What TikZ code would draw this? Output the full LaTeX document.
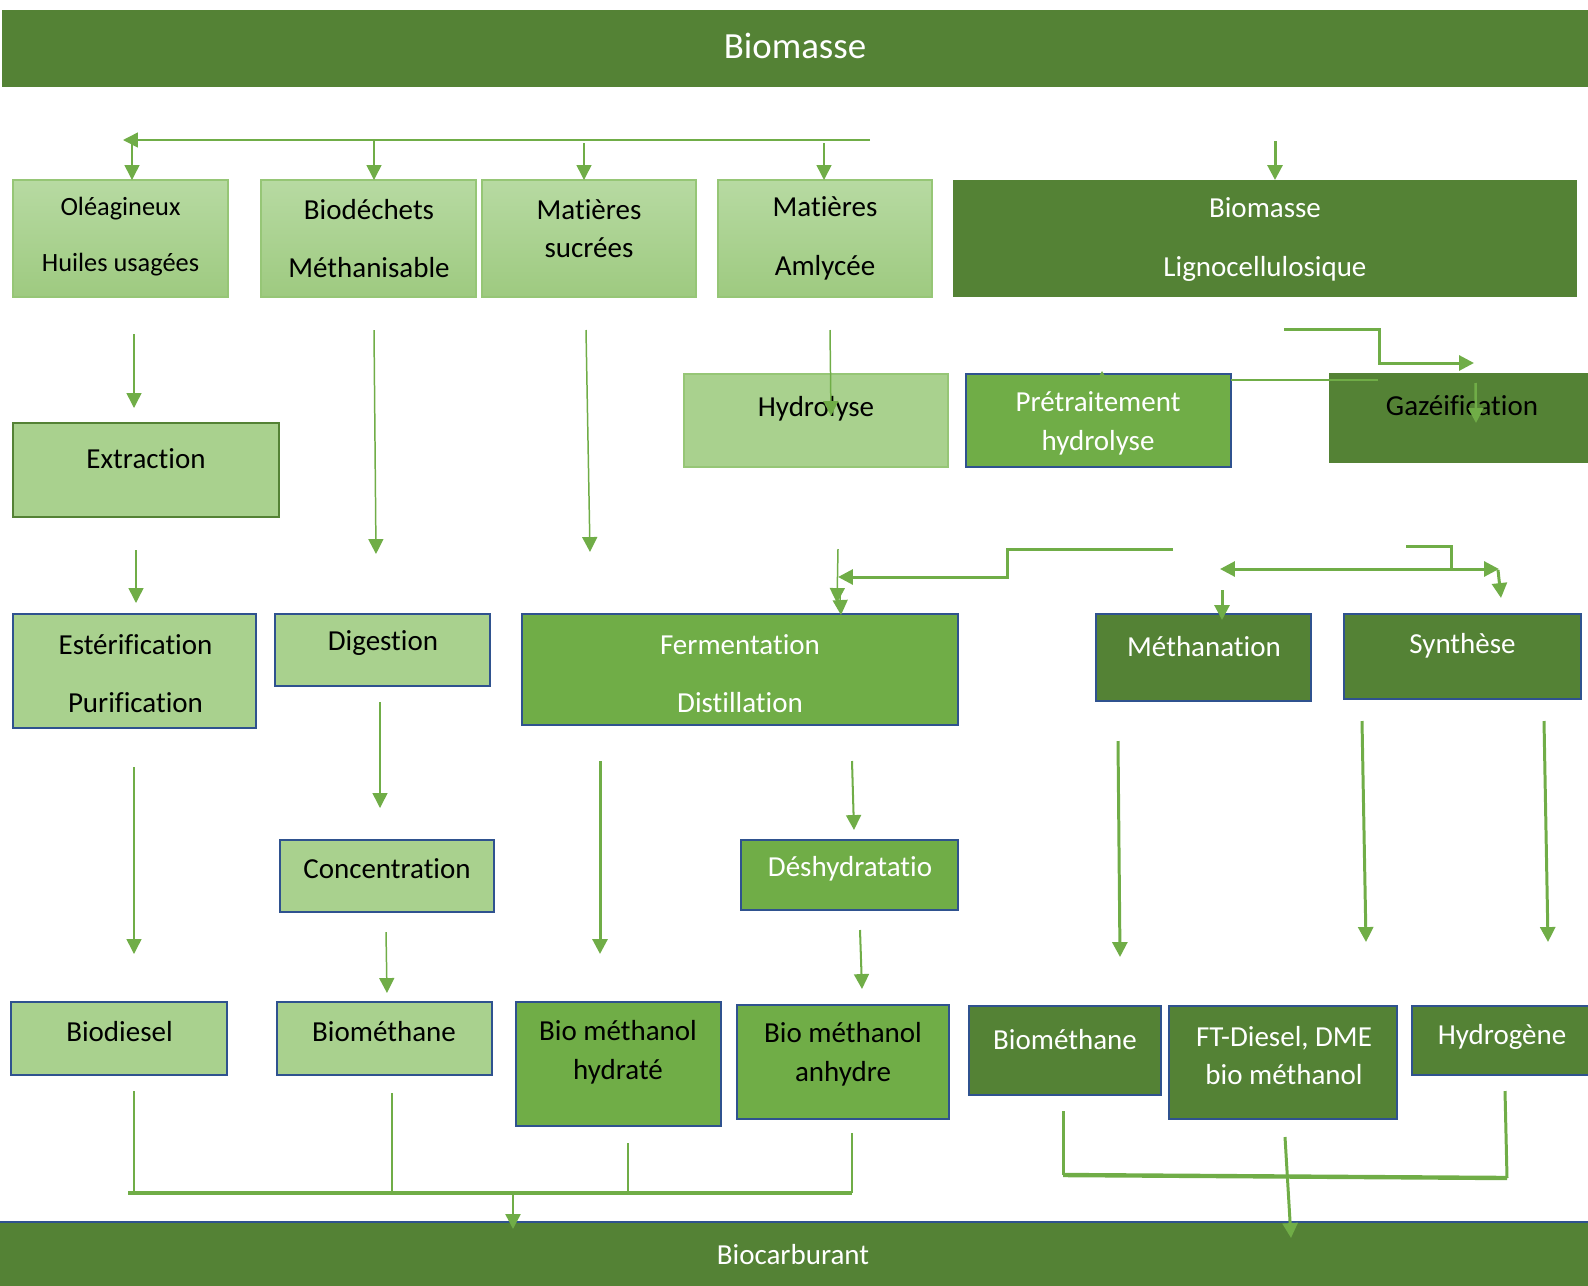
\documentclass[tikz,border=0pt]{standalone}
\usepackage{fontspec}
\setmainfont{Carlito}[Ligatures=NoCommon]
\usetikzlibrary{arrows.meta}
\definecolor{darkg}{RGB}{84,130,53}
\definecolor{medg}{RGB}{112,173,71}
\definecolor{lightg}{RGB}{169,209,142}
\definecolor{paleg}{RGB}{183,218,162}
\definecolor{softg}{RGB}{158,202,128}
\definecolor{edgeg}{RGB}{150,198,118}
\definecolor{blueb}{RGB}{47,82,143}
\begin{document}
\begin{tikzpicture}[x=0.02cm, y=-0.02cm,
  every node/.style={inner sep=0pt, outer sep=0pt},
  lbl/.style={font=\fontsize{16.5}{20}\selectfont, align=center},
  wlbl/.style={lbl, text=white},
  srcbox/.style={draw=edgeg, line width=0.8pt, top color=paleg, bottom color=softg},
  ltbox/.style={fill=lightg, draw=blueb, line width=1.5pt},
  mdbox/.style={fill=medg, draw=blueb, line width=1.5pt},
  dkbox/.style={fill=darkg, draw=blueb, line width=1.5pt},
  lnthin/.style={draw=medg, line width=0.85pt},
  lnmid/.style={draw=medg, line width=1.15pt},
  lnthick/.style={draw=medg, line width=1.7pt},
  lnbar/.style={draw=medg, line width=2.5pt},
  arr/.style={-{Triangle[width=8.5pt,length=8.5pt]}},
  arrboth/.style={{Triangle[width=8.5pt,length=8.5pt]}-{Triangle[width=8.5pt,length=8.5pt]}},
]
\useasboundingbox (0,0) rectangle (1588,1285);
\clip (0,0) rectangle (1588,1285);

% ---------- banners ----------
\node[fill=darkg, minimum width=31.8cm, minimum height=1.54cm] (biom) at (797,48.5) {};
\node[text=white, font=\fontsize{21}{25}\selectfont] (biom-t) at (795,46) {Biomasse};
\node[fill=darkg, draw=blueb, line width=1.5pt, minimum width=31.9cm, minimum height=1.4cm] (bcarb) at (795,1257) {};
\node[wlbl] (bcarb-t) at (793,1255) {Biocarburant};

% ---------- feedstocks ----------
\node[srcbox, minimum width=4.30cm, minimum height=2.34cm] (ole) at (120.5,238.5) {};
\node[font=\fontsize{15}{18}\selectfont, align=center] (ole-t) at (120.5,236.5) {Oléagineux\\[14.3pt]Huiles usagées};
\node[srcbox, minimum width=4.30cm, minimum height=2.34cm] (bio) at (368.5,238.5) {};
\node[lbl] (bio-t) at (369,238.5) {Biodéchets\\[13.4pt]Méthanisable};
\node[srcbox, minimum width=4.28cm, minimum height=2.34cm] (suc) at (589,238.5) {};
\node[lbl] (suc-t) at (589,228.5) {Matières\\[2pt]sucrées};
\node[srcbox, minimum width=4.28cm, minimum height=2.34cm] (ami) at (825,238.5) {};
\node[lbl] (ami-t) at (825,238.5) {Matières\\[13.4pt]Amlycée};
\node[fill=darkg, minimum width=12.48cm, minimum height=2.34cm] (lig) at (1265,238.5) {};
\node[wlbl] (lig-t) at (1265,239.5) {Biomasse\\[13.4pt]Lignocellulosique};

% ---------- first treatments ----------
\node[fill=lightg, draw=darkg, line width=1.5pt, minimum width=5.32cm, minimum height=1.88cm] (ext) at (146,470) {};
\node[lbl] (ext-t) at (146,459) {Extraction};
\node[fill=lightg, draw=edgeg, line width=0.8pt, minimum width=5.28cm, minimum height=1.86cm] (hyd) at (816,420.5) {};
\node[lbl] (hyd-t) at (816,409) {Hydrolyse};
\node[mdbox, minimum width=5.30cm, minimum height=1.86cm] (pre) at (1098.5,420.5) {};
\node[wlbl] (pre-t) at (1098,423.5) {Prétraitement\\[2pt]hydrolyse};
\node[fill=darkg, minimum width=5.42cm, minimum height=1.80cm] (gaz) at (1464.5,418) {};
\node[lbl] (gaz-t) at (1462,406) {Gazéification};

% ---------- conversion ----------
\node[ltbox, minimum width=4.86cm, minimum height=2.28cm] (est) at (134.5,671) {};
\node[lbl] (est-t) at (135.5,673.5) {Estérification\\[13.4pt]Purification};
\node[ltbox, minimum width=4.30cm, minimum height=1.44cm] (dig) at (382.5,650) {};
\node[lbl] (dig-t) at (383,643) {Digestion};
\node[mdbox, minimum width=8.72cm, minimum height=2.22cm] (fer) at (740,669.5) {};
\node[wlbl] (fer-t) at (740,673.5) {Fermentation\\[13.4pt]Distillation};
\node[dkbox, minimum width=4.30cm, minimum height=1.74cm] (met) at (1203.5,657.5) {};
\node[wlbl] (met-t) at (1204,647) {Méthanation};
\node[dkbox, minimum width=4.74cm, minimum height=1.70cm] (syn) at (1462.5,656.5) {};
\node[wlbl] (syn-t) at (1462.5,646) {Synthèse};

\node[ltbox, minimum width=4.28cm, minimum height=1.44cm] (con) at (387,876) {};
\node[lbl] (con-t) at (387,869) {Concentration};
\node[mdbox, minimum width=4.34cm, minimum height=1.40cm] (des) at (849.5,875) {};
\node[wlbl] (des-t) at (850,869) {Déshydratatio};

% ---------- products ----------
\node[ltbox, minimum width=4.32cm, minimum height=1.46cm] (bdi) at (119,1038.5) {};
\node[lbl] (bdi-t) at (119.5,1032) {Biodiesel};
\node[ltbox, minimum width=4.30cm, minimum height=1.46cm] (bml) at (384.5,1038.5) {};
\node[lbl] (bml-t) at (384,1032) {Biométhane};
\node[mdbox, minimum width=4.10cm, minimum height=2.48cm] (hyt) at (618.5,1064) {};
\node[lbl] (hyt-t) at (618,1052.5) {Bio méthanol\\[2pt]hydraté};
\node[mdbox, minimum width=4.24cm, minimum height=2.28cm] (anh) at (843,1062) {};
\node[lbl] (anh-t) at (843,1054) {Bio méthanol\\[2pt]anhydre};
\node[dkbox, minimum width=3.84cm, minimum height=1.78cm] (bmr) at (1065,1050.5) {};
\node[wlbl] (bmr-t) at (1065,1040) {Biométhane};
\node[dkbox, minimum width=4.56cm, minimum height=2.26cm] (ftd) at (1283,1062.5) {};
\node[wlbl] (ftd-t) at (1284,1055.5) {FT-Diesel, DME\\[2pt]bio méthanol};
\node[dkbox, minimum width=3.76cm, minimum height=1.38cm] (hh) at (1506,1040.5) {};
\node[wlbl] (hh-t) at (1502,1037) {Hydrogène};

% ---------- distribution from the top ----------
\coordinate (d0) at (870,140);
\coordinate (d1) at (123,140);
\draw[lnthin, arr] (d0) -- (d1);
\coordinate (v1) at (132,140);
\coordinate (v2) at (374,141);
\coordinate (v3) at (584,143);
\coordinate (v4) at (824,143);
\foreach \c/\b in {v1/ole, v2/bio, v3/suc, v4/ami}
  \draw[lnthin, arr] (\c) -- (\c |- \b.north);
\coordinate (l0) at (1275,141);
\draw[lnthick, arr] (l0) -- (l0 |- lig.north);

% ---------- second row links ----------
\coordinate (a1s) at (134,334); \coordinate (a1e) at (134,408);
\coordinate (a2s) at (374,330); \coordinate (a2e) at (376,554);
\coordinate (a3s) at (586,330); \coordinate (a3e) at (590,552);
\coordinate (a4s) at (830,330); \coordinate (a4e) at (831,416);
\draw[lnthin, arr] (a1s) -- (a1e);
\draw[lnthin, arr] (a2s) -- (a2e);
\draw[lnthin, arr] (a3s) -- (a3e);
\draw[lnthin, arr] (a4s) -- (a4e);

\coordinate (g0) at (1284,329);
\coordinate (g1) at (1379,329);
\coordinate (g2) at (1379,363);
\coordinate (g3) at (1474,363);
\draw[lnthick, arr] (g0) -- (g1) -- (g2) -- (g3);
\coordinate (p1) at (1378,380);
\draw[lnthin] (pre.east |- p1) -- (p1);
\coordinate (p2) at (1102,380);
\coordinate (p3) at (1102,371);
\draw[lnthin, -{Triangle[width=4.5pt,length=4pt]}] (p2) -- (p3);
\coordinate (gz0) at (1475.5,383);
\coordinate (gz1) at (1476,423);
\draw[medg, line width=1.4pt, arr] (gz0) -- (gz1);

% ---------- third row links ----------
\coordinate (a5s) at (136,550); \coordinate (a5e) at (136,603);
\draw[lnthin, arr] (a5s) -- (a5e);
\coordinate (f0) at (1173,549);
\coordinate (f1) at (1007,549);
\coordinate (f2) at (1007,577);
\coordinate (f3) at (838,577);
\draw[lnthick, arr] (f0) -- (f1) -- (f2) -- (f3);
\coordinate (f4) at (838,549); \coordinate (f5) at (837,603);
\draw[lnthin, arr] (f4) -- (f5);
\coordinate (f6) at (840,596); \coordinate (f7) at (841,615);
\draw[lnthin, arr] (f6) -- (f7);
\coordinate (s0) at (1220,569); \coordinate (s1) at (1499,569);
\draw[lnthick, arrboth] (s0) -- (s1);
\coordinate (s2) at (1406,546); \coordinate (s3) at (1451,546); \coordinate (s4) at (1451,570);
\draw[lnthick] (s2) -- (s3) -- (s4);
\coordinate (s5) at (1498,570); \coordinate (s6) at (1501,598);
\draw[lnthick, arr] (s5) -- (s6);
\coordinate (m0) at (1222,590); \coordinate (m1) at (1222,620);
\draw[lnthick, arr] (m0) -- (m1);

% ---------- fourth row links ----------
\coordinate (b0) at (134,767); \coordinate (b1) at (134,954);
\draw[lnthin, arr] (b0) -- (b1);
\coordinate (c0) at (380,702); \coordinate (c1) at (380,808);
\draw[lnthin, arr] (c0) -- (c1);
\coordinate (h0) at (600,761); \coordinate (h1) at (600,954);
\draw[lnthick, arr] (h0) -- (h1);
\coordinate (e0) at (852,761); \coordinate (e1) at (854,830);
\draw[lnmid, arr] (e0) -- (e1);
\coordinate (r0) at (1118,741); \coordinate (r1) at (1120,957);
\draw[lnthick, arr] (r0) -- (r1);
\coordinate (t0) at (1362,721); \coordinate (t1) at (1366,942);
\draw[lnthick, arr] (t0) -- (t1);
\coordinate (u0) at (1544,721); \coordinate (u1) at (1548,942);
\draw[lnthick, arr] (u0) -- (u1);

% ---------- fifth row links ----------
\coordinate (k0) at (386,932); \coordinate (k1) at (387,993);
\draw[lnthin, arr] (k0) -- (k1);
\coordinate (n0) at (860,930); \coordinate (n1) at (862,989);
\draw[lnmid, arr] (n0) -- (n1);

% ---------- collectors towards Biocarburant ----------
\coordinate (q1) at (134,1091); \coordinate (q1b) at (134,1193);
\coordinate (q2) at (392,1093); \coordinate (q2b) at (392,1193);
\coordinate (q3) at (628,1143); \coordinate (q3b) at (628,1193);
\coordinate (q4) at (852,1133); \coordinate (q4b) at (852,1193);
\coordinate (qL) at (128,1193);
\draw[lnthin] (q1) -- (q1b);
\draw[lnthin] (q2) -- (q2b);
\draw[medg, line width=1.4pt] (q3) -- (q3b);
\draw[medg, line width=1.4pt] (q4) -- (q4b);
\draw[lnbar] (qL) -- (q4b);
\coordinate (qa) at (513,1193); \coordinate (qb) at (513,1229);
\draw[medg, line width=1.4pt, arr] (qa) -- (qb);

\coordinate (w1) at (1063,1111); \coordinate (w1b) at (1063,1175);
\coordinate (w3) at (1505,1091); \coordinate (w3b) at (1507,1178);
\draw[lnthick] (w1) -- (w1b);
\draw[lnthick] (w3) -- (w3b);
\draw[lnbar] (w1b) -- (w3b);
\coordinate (wa) at (1285,1137); \coordinate (wb) at (1291,1238);
\draw[lnthick, arr] (wa) -- (wb);
\end{tikzpicture}
\end{document}
